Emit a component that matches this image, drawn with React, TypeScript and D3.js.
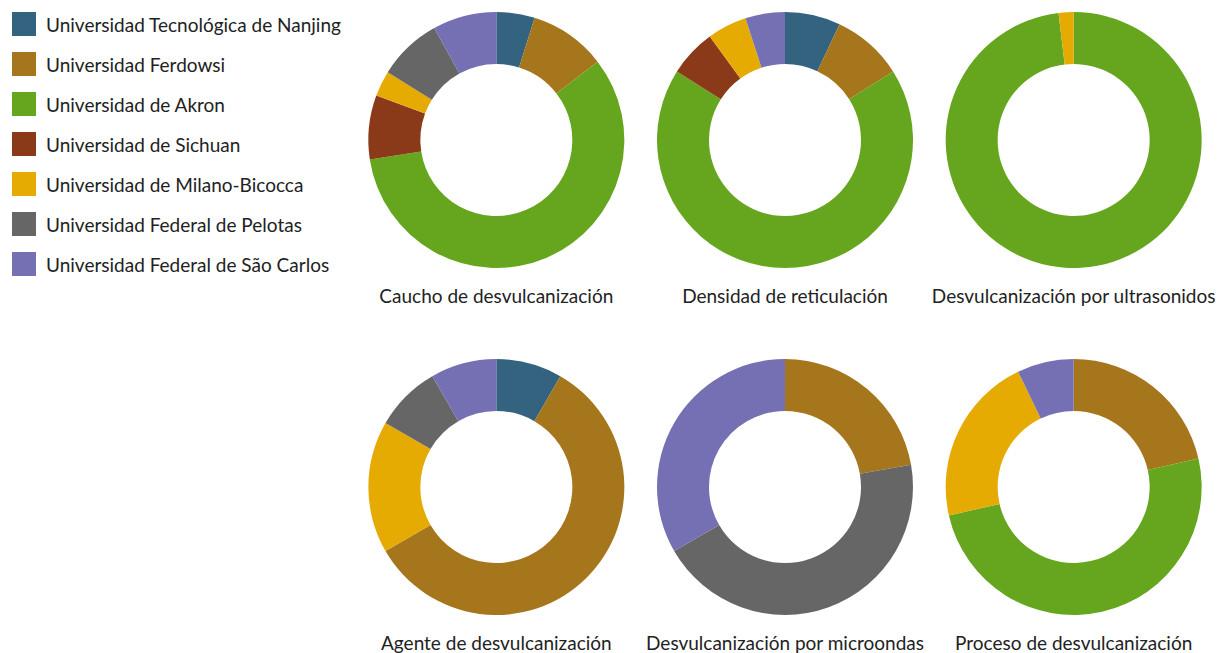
import React from 'react';
import * as d3 from 'd3';

// universities, in legend / slice order
const universities = [
  'Universidad Tecnológica de Nanjing',
  'Universidad Ferdowsi',
  'Universidad de Akron',
  'Universidad de Sichuan',
  'Universidad de Milano-Bicocca',
  'Universidad Federal de Pelotas',
  'Universidad Federal de São Carlos',
];
const colors = ['#33637f', '#a6761d', '#66a61e', '#8b3a19', '#e6ab02', '#666666', '#7570b3'];

const chartTitles = [
  'Caucho de desvulcanización',
  'Densidad de reticulación',
  'Desvulcanización por ultrasonidos',
  'Agente de desvulcanización',
  'Desvulcanización por microondas',
  'Proceso de desvulcanización',
];

// counts per university for each topic
const cauchoValues = [3, 6, 36, 5, 2, 5, 5];
const densidadValues = [7, 9, 68, 6, 5, 0, 5];
const ultrasonidosValues = [0, 0, 52, 0, 1, 0, 0];
const agenteValues = [1, 7, 0, 0, 2, 1, 1];
const microondasValues = [0, 2, 0, 0, 0, 4, 3];
const procesoValues = [0, 3, 7, 0, 3, 0, 1];

const allValues = [cauchoValues, densidadValues, ultrasonidosValues, agenteValues, microondasValues, procesoValues];

const FONT = 'Lato, sans-serif';
const FONT_SIZE = 19;

const Donut = ({ values, title, cx, cy }: { values: number[]; title: string; cx: number; cy: number }) => {
  const pie = d3.pie<number>().sort(null).value((d) => d);
  const arc = d3.arc<d3.PieArcDatum<number>>().innerRadius(76).outerRadius(128);
  const arcs = pie(values);
  return (
    <g transform={`translate(${cx},${cy})`}>
      {arcs.map((a, i) =>
        a.value > 0 ? <path key={i} d={arc(a) || ''} fill={colors[i]} /> : null
      )}
      <text y={155} textAnchor="middle" dominantBaseline="central" fontFamily={FONT} fontSize={FONT_SIZE} fill="#222">
        {title}
      </text>
    </g>
  );
};

export default function App() {
  const width = 1226;
  const height = 653;
  const col = d3.scaleBand<number>().domain([0, 1, 2]).range([352, 1218]);
  const row = d3.scaleBand<number>().domain([0, 1]).range([-33.5, 660.5]);

  return (
    <svg width={width} height={height} style={{ position: 'fixed', left: 0, top: 0, background: '#fff' }}>
      {universities.map((u, i) => (
        <g key={u} transform={`translate(12,${12 + i * 40})`}>
          <rect width={24} height={24} fill={colors[i]} />
          <text x={34} y={12} dominantBaseline="central" fontFamily={FONT} fontSize={FONT_SIZE} fill="#222">
            {u}
          </text>
        </g>
      ))}
      {allValues.map((vals, k) => (
        <Donut
          key={k}
          values={vals}
          title={chartTitles[k]}
          cx={(col(k % 3) as number) + col.bandwidth() / 2}
          cy={(row(Math.floor(k / 3)) as number) + row.bandwidth() / 2}
        />
      ))}
    </svg>
  );
}
